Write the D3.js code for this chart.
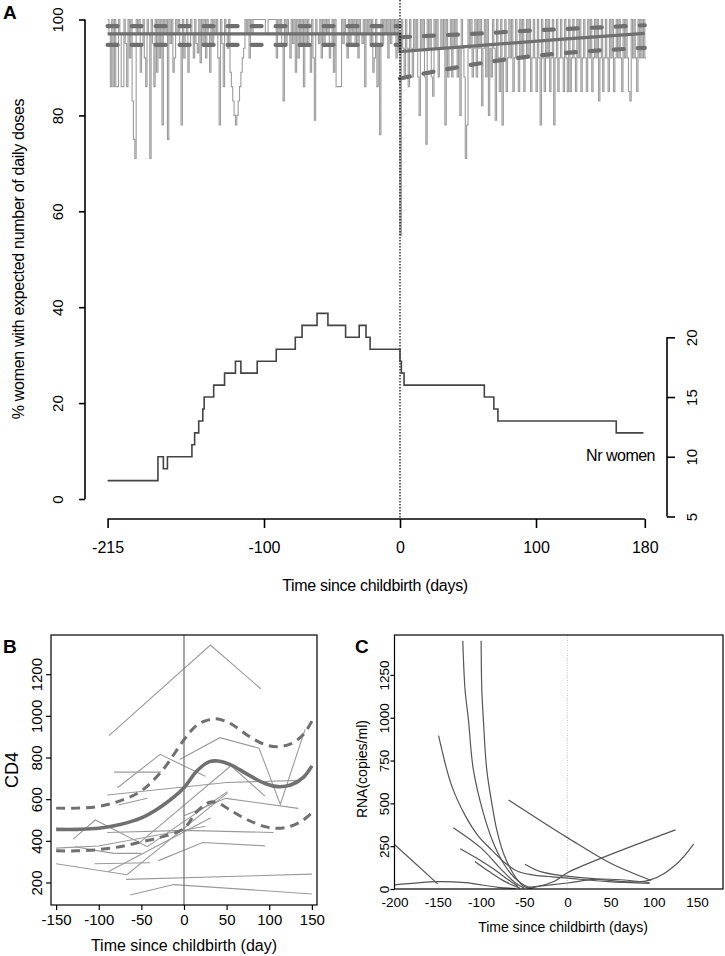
<!DOCTYPE html>
<html><head><meta charset="utf-8">
<script src="https://cdn.jsdelivr.net/npm/d3@7/dist/d3.min.js"></script>
<style>body{margin:0;background:#fff}svg text{font-family:"Liberation Sans",Arial,sans-serif;fill:#000}</style>
</head><body><svg id="fig" width="725" height="956"></svg>
<script>
// ---------- Panel A data ----------
const adherenceStartDay = -215;
// daily % of women with expected number of daily doses, day -215 .. 180
const adherence = [
100,97,86,100,86,100,86,86,100,97,
86,86,100,95,86,100,92,100,83,75,
71,100,97,100,89,95,100,92,86,100,
97,71,100,95,86,100,89,100,92,100,
78,100,97,100,75,100,95,100,89,92,
100,97,100,95,78,100,92,97,100,89,
95,100,97,92,100,95,93,100,91,100,
95,100,92,100,97,89,100,95,100,97,
100,92,78,100,95,86,100,97,94,100,
89,86,83,80,78,80,83,86,89,92,
94,100,97,100,92,100,97,100,100,100,
100,100,100,100,100,100,97,97,100,100,
100,100,100,100,92,100,97,100,95,83,
100,95,100,97,92,100,95,100,89,100,
92,100,95,100,86,100,95,100,95,89,
100,92,79,100,97,95,100,92,100,95,
100,97,100,92,95,100,89,100,86,86,
86,86,100,95,100,97,92,100,95,100,
97,100,95,100,92,100,97,95,100,86,
100,97,100,95,100,89,92,100,86,95,
76,100,95,100,97,100,92,100,95,100,
97,100,92,100,95,
55,
100,94,88,100,94,86,100,94,88,100,
94,100,88,80,100,94,100,88,74,100,
94,100,88,84,100,94,100,88,94,100,
94,100,78,100,88,94,100,88,100,94,
100,88,94,80,100,94,88,71,78,100,
94,100,88,94,100,88,100,94,100,82,
94,100,88,100,80,94,88,100,94,79,
100,92,85,100,78,92,100,85,92,100,
92,100,85,92,100,92,85,100,92,100,
85,92,100,92,100,85,92,100,92,85,
100,92,78,100,92,85,100,92,100,85,
92,100,78,92,100,85,92,100,92,85,
100,92,85,100,85,92,100,92,85,100,
92,100,85,92,100,92,85,100,92,100,
85,92,100,92,100,83,92,100,85,92,
100,92,85,100,92,100,85,92,100,92,
100,92,85,100,92,100,92,85,83,100,
92,100,92,85,100,92,100,92,100,92
];
const fitSolid = [[-215,97],[0,97],[0,93.3],[60,94.6],[120,95.9],[180,97.1]];
const fitUpperPre = [[-215,98.6],[0,98.6]];
const fitLowerPre = [[-215,94.7],[0,94.7]];
const fitUpperPost = [[0,96.3],[30,96.7],[60,97.1],[90,97.6],[120,98.0],[150,98.4],[180,98.8]];
const fitLowerPost = [[0,87.7],[30,89.4],[60,90.9],[90,92.1],[120,93.0],[150,93.6],[180,94.1]];
const nrWomen = [[-215,8],[-178,10],[-174,9],[-171,10],[-153,11],[-151,12],[-148,13],[-145,14],[-144,15],[-137,16],[-129,17],[-121,18],[-117,17],[-105,18],[-91,19],[-77,20],[-72,21],[-61,22],[-53,21],[-40,20],[-30,21],[-25,20],[-22,19],[0,18],[1,17],[3,16],[62,15],[69,14],[72,13],[159,12],[179,12]];
const aXTicks = [-215,-100,0,100,180];
const aYTicks = [0,20,40,60,80,100];
const aRTicks = [5,10,15,20];

// ---------- Panel B data ----------
const cd4Mean = [[-150,455],[-125,455],[-100,460],[-75,478],[-50,510],[-25,570],[0,655],[15,735],[30,780],[40,783],[55,765],[75,718],[95,675],[110,660],[125,668],[140,705],[150,760]];
const cd4Upper = [[-150,557],[-125,557],[-100,565],[-75,592],[-50,640],[-25,740],[0,885],[15,955],[30,982],[40,985],[55,962],[75,905],[95,862],[110,852],[125,865],[140,910],[150,975]];
const cd4Lower = [[-150,352],[-125,352],[-100,358],[-75,372],[-50,395],[-25,420],[0,460],[15,540],[30,585],[40,582],[55,545],[75,500],[95,468],[110,460],[125,470],[140,500],[150,535]];
const cd4Patients = [
 [[-88,905],[31,1340],[90,1130]],
 [[-78,655],[-28,815],[25,710]],
 [[-82,730],[-27,730]],
 [[-5,790],[42,895],[88,845],[113,575],[142,935]],
 [[-53,388],[55,760],[95,615]],
 [[-90,620],[50,680],[135,690]],
 [[-77,572],[-43,604]],
 [[-130,408],[-104,500],[-43,372],[51,636]],
 [[0,520],[49,604],[134,556]],
 [[-128,372],[-83,340],[-50,340]],
 [[-150,365],[-100,375],[25,470]],
 [[-90,440],[0,450],[105,440]],
 [[-30,305],[22,392],[95,376]],
 [[-89,252],[31,510]],
 [[-150,290],[-67,237],[51,630]],
 [[-105,290],[-40,295]],
 [[-68,215],[150,240]],
 [[-63,140],[-12,190],[150,145]]
];
const bXTicks = [-150,-100,-50,0,50,100,150];
const bYTicks = [200,400,600,800,1000,1200];

// ---------- Panel C data ----------
const rnaPatients = [
 [[-121,1450],[-118.4,1165],[-114.5,989],[-108.8,697],[-97.2,443],[-85.6,268],[-74,150],[-62,70],[-50,22],[-40,5]],
 [[-99.8,1450],[-99,1165],[-97.2,989],[-93.3,697],[-87.5,503],[-81.7,345],[-74,209],[-66,120],[-58,55],[-50,15],[-42,3]],
 [[-149,895],[-134,605],[-118,427],[-103,309],[-88,230],[-72,152],[-57,102],[-41,83],[-22,73],[1,63],[47,43],[95,33]],
 [[-200,260],[-150,30]],
 [[-200,24],[-150,43],[-118,37],[-80,10],[-60,3]],
 [[-132,358],[-100,240],[-76,112],[-60,35],[-50,5]],
 [[-124,235],[-100,165],[-84,112],[-70,60],[-57,14]],
 [[-107,161],[-90,100],[-72,43],[-55,5]],
 [[-68,520],[0,300],[50,150],[97,50]],
 [[-49,145],[-30,100],[24,63],[94,50],[125,140],[146,262]],
 [[-42,5],[-15,45],[0,95],[125,345]],
 [[-45,10],[0,35],[35,58],[95,38]]
];
const cXTicks = [-200,-150,-100,-50,0,50,100,150];
const cYTicks = [0,250,500,750,1000,1250];

// ---------- drawing ----------
const svg = d3.select("#fig");
const thick = "#6f6f6f";
const fmt = d => String(d);

// ===== Panel A =====
const ax = d3.scaleLinear().domain([-215,180]).range([107.6,644.8]);
const ay = d3.scaleLinear().domain([0,100]).range([499,19.5]);
const ar = d3.scaleLinear().domain([5,20]).range([516.5,337.3]);
const gA = svg.append("g");

const adhPts = adherence.map((v,i)=>[adherenceStartDay+i, v]);
adhPts.push([adherenceStartDay+adherence.length, adherence[adherence.length-1]]);
gA.append("path").attr("d", d3.line().x(d=>ax(d[0])).y(d=>ay(d[1])).curve(d3.curveStepAfter)(adhPts))
  .attr("fill","none").attr("stroke","#9c9c9c").attr("stroke-width",1.1);

const lineA = d3.line().x(d=>ax(d[0])).y(d=>ay(d[1]));
gA.append("path").attr("d", lineA(fitSolid)).attr("fill","none").attr("stroke",thick).attr("stroke-width",3.2);
[fitUpperPre, fitLowerPre, fitUpperPost, fitLowerPost].forEach(s=>{
  gA.append("path").attr("d", lineA.curve(d3.curveMonotoneX)(s)).attr("fill","none").attr("stroke",thick)
    .attr("stroke-width",4.2).attr("stroke-dasharray","10,14").attr("stroke-linecap","round");
});

gA.append("line").attr("x1",ax(0)).attr("x2",ax(0)).attr("y1",0).attr("y2",519)
  .attr("stroke","#000").attr("stroke-width",1.2).attr("stroke-dasharray","1.5,1.5");

gA.append("path").attr("d", d3.line().x(d=>ax(d[0])).y(d=>ar(d[1])).curve(d3.curveStepAfter)(nrWomen))
  .attr("fill","none").attr("stroke","#444").attr("stroke-width",1.6);
gA.append("text").attr("x",655).attr("y",461).attr("text-anchor","end").attr("font-size",16).attr("letter-spacing","-0.5").text("Nr women");

const axA = gA.append("g").attr("transform","translate(0,519)")
  .call(d3.axisBottom(ax).tickValues(aXTicks).tickSize(9).tickPadding(14).tickFormat(fmt));
const ayA = gA.append("g").attr("transform","translate(85,0)")
  .call(d3.axisLeft(ay).tickValues(aYTicks).tickSize(6).tickFormat(fmt));
const arA = gA.append("g").attr("transform","translate(667,0)")
  .call(d3.axisRight(ar).tickValues(aRTicks).tickSize(8).tickFormat(fmt));
[axA, ayA, arA].forEach(g=>{g.select(".domain").attr("stroke","#000").attr("stroke-width",1.6);g.selectAll(".tick line").attr("stroke","#000").attr("stroke-width",1.6);});
axA.selectAll("text").attr("font-size",16).attr("font-family","Liberation Sans, Arial").attr("fill","#000");
ayA.selectAll("text").attr("font-size",15).attr("font-family","Liberation Sans, Arial").attr("fill","#000")
  .attr("transform","rotate(-90)").attr("text-anchor","middle").attr("x",0).attr("dy",0).attr("y",-22);
arA.selectAll("text").attr("font-size",15).attr("font-family","Liberation Sans, Arial").attr("fill","#000")
  .attr("transform","rotate(-90)").attr("text-anchor","middle").attr("x",0).attr("dy",0).attr("y",30);
axA.select(".domain").attr("d",`M${ax(-215)},0H${ax(180)}`);
ayA.select(".domain").attr("d",`M0,${ay(0)}V${ay(100)}`);
arA.select(".domain").attr("d",`M0,${ar(5)}V${ar(20)}`);

gA.append("text").attr("x",ax(0)-25).attr("y",591).attr("text-anchor","middle").attr("font-size",16).attr("letter-spacing","-0.3").text("Time since childbirth (days)");
gA.append("text").attr("transform","translate(24,259) rotate(-90)").attr("text-anchor","middle").attr("font-size",16).attr("letter-spacing","-0.3").text("% women with expected number of daily doses");
gA.append("text").attr("x",3).attr("y",19).attr("font-size",19).attr("font-weight","bold").text("A");

// ===== Panel B =====
const bx = d3.scaleLinear().domain([-156,156]).range([51,317]);
const by = d3.scaleLinear().domain([92,1388]).range([905,635]);
const gB = svg.append("g");
gB.append("clipPath").attr("id","clipB").append("rect").attr("x",51).attr("y",635).attr("width",266).attr("height",270);
const pB = gB.append("g").attr("clip-path","url(#clipB)");
const lineB = d3.line().x(d=>bx(d[0])).y(d=>by(d[1]));
cd4Patients.forEach(p=>{
  pB.append("path").attr("d", lineB.curve(d3.curveLinear)(p)).attr("fill","none").attr("stroke","#9a9a9a").attr("stroke-width",1.1);
});
pB.append("line").attr("x1",bx(0)).attr("x2",bx(0)).attr("y1",635).attr("y2",905).attr("stroke","#777").attr("stroke-width",1.3);
const smoothB = d3.line().x(d=>bx(d[0])).y(d=>by(d[1])).curve(d3.curveCatmullRom);
pB.append("path").attr("d", smoothB(cd4Mean)).attr("fill","none").attr("stroke","#707070").attr("stroke-width",3.6);
[cd4Upper, cd4Lower].forEach(s=>{
  pB.append("path").attr("d", smoothB(s)).attr("fill","none").attr("stroke","#707070").attr("stroke-width",3)
    .attr("stroke-dasharray","9,6");
});
gB.append("rect").attr("x",51).attr("y",635).attr("width",266).attr("height",270).attr("fill","none").attr("stroke","#000").attr("stroke-width",1.2);
const bxA = gB.append("g").attr("transform","translate(0,905)").call(d3.axisBottom(bx).tickValues(bXTicks).tickSize(5).tickPadding(4).tickFormat(fmt));
const byA = gB.append("g").attr("transform","translate(51,0)").call(d3.axisLeft(by).tickValues(bYTicks).tickSize(5).tickFormat(fmt));
[bxA, byA].forEach(g=>{g.select(".domain").remove();g.selectAll(".tick line").attr("stroke","#000").attr("stroke-width",1.2);});
bxA.selectAll("text").attr("font-size",15).attr("font-family","Liberation Sans, Arial").attr("fill","#000");
byA.selectAll("text").attr("font-size",15).attr("font-family","Liberation Sans, Arial").attr("fill","#000")
  .attr("transform","rotate(-90)").attr("text-anchor","middle").attr("x",0).attr("dy",0).attr("y",-9);
gB.append("text").attr("x",bx(0)).attr("y",951).attr("text-anchor","middle").attr("font-size",16).text("Time since childbirth (day)");
gB.append("text").attr("transform",`translate(18,${by(740)}) rotate(-90)`).attr("text-anchor","middle").attr("font-size",18).text("CD4");
gB.append("text").attr("x",3).attr("y",653).attr("font-size",19).attr("font-weight","bold").text("B");

// ===== Panel C =====
const cx = d3.scaleLinear().domain([-200,180]).range([394.5,723]);
const cy = d3.scaleLinear().domain([0,1483]).range([889,635]);
const gC = svg.append("g");
gC.append("clipPath").attr("id","clipC").append("rect").attr("x",394.5).attr("y",635).attr("width",328.5).attr("height",254);
const pC = gC.append("g").attr("clip-path","url(#clipC)");
pC.append("line").attr("x1",cx(0)).attr("x2",cx(0)).attr("y1",635).attr("y2",889).attr("stroke","#c8c8c8").attr("stroke-width",1).attr("stroke-dasharray","1,1.5");
const lineC = d3.line().x(d=>cx(d[0])).y(d=>cy(d[1])).curve(d3.curveCatmullRom);
rnaPatients.forEach(p=>{
  pC.append("path").attr("d", lineC(p)).attr("fill","none").attr("stroke","#555").attr("stroke-width",1.2);
});
gC.append("rect").attr("x",394.5).attr("y",635).attr("width",328.5).attr("height",254).attr("fill","none").attr("stroke","#000").attr("stroke-width",1.2);
const cxA = gC.append("g").attr("transform","translate(0,889)").call(d3.axisBottom(cx).tickValues(cXTicks).tickSize(0).tickPadding(8).tickFormat(fmt));
const cyA = gC.append("g").attr("transform","translate(394.5,0)").call(d3.axisLeft(cy).tickValues(cYTicks).tickSize(4).tickFormat(fmt));
[cxA, cyA].forEach(g=>{g.select(".domain").remove();g.selectAll(".tick line").attr("stroke","#000").attr("stroke-width",1.2);});
cxA.selectAll("text").attr("font-size",13.5).attr("font-family","Liberation Sans, Arial").attr("fill","#000");
cyA.selectAll("text").attr("font-size",13.5).attr("font-family","Liberation Sans, Arial").attr("fill","#000")
  .attr("transform","rotate(-90)").attr("text-anchor","middle").attr("x",0).attr("dy",0).attr("y",-6);
gC.append("text").attr("x",cx(-5)).attr("y",932).attr("text-anchor","middle").attr("font-size",14).text("Time since childbirth (days)");
gC.append("text").attr("transform",`translate(367,${cy(700)}) rotate(-90)`).attr("text-anchor","middle").attr("font-size",14).text("RNA(copies/ml)");
gC.append("text").attr("x",355).attr("y",653).attr("font-size",19).attr("font-weight","bold").text("C");
</script></body></html>
